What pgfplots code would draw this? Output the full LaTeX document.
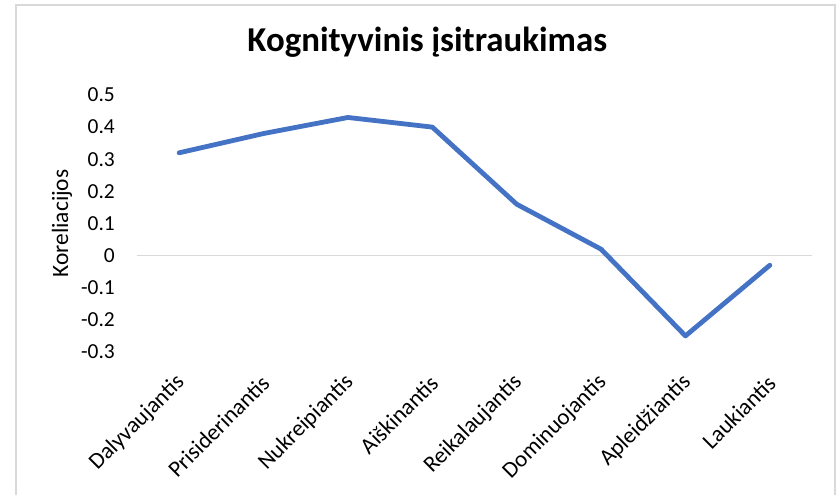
\documentclass[border=0pt]{standalone}
\usepackage{fontspec}
\setmainfont{Carlito}
\usepackage{pgfplots}
\pgfplotsset{compat=1.18}
\definecolor{lineblue}{HTML}{4472C4}
\definecolor{framegray}{HTML}{D9D9D9}

\begin{document}
\begin{tikzpicture}
  % picture frame: 838 x 495 px, 1 px = 1 bp, origin at data (0,0)
  \useasboundingbox (-179.19bp,-239.4bp) rectangle (658.81bp,255.6bp);
  \draw[framegray, line width=2bp] (-163.2bp,-245bp) -- (-163.2bp,250.6bp) -- (655.8bp,250.6bp) -- (655.8bp,-245bp);
  \begin{axis}[
      at={(0,0)}, anchor=origin,
      scale only axis,
      width=675bp, height=257bp,
      xmin=-0.5, xmax=7.5,
      ymin=-0.3, ymax=0.5,
      axis line style={draw=none},
      major tick length=0pt,
      xtick={0,1,2,3,4,5,6,7},
      xticklabels={Dalyvaujantis,Prisiderinantis,Nukreipiantis,Aiškinantis,Reikalaujantis,Dominuojantis,Apleidžiantis,Laukiantis},
      x tick label style={font=\fontsize{23}{27}\selectfont, inner sep=0pt, yshift=-27bp, xshift=2bp, rotate=45, anchor=east},
      ytick={-0.3,-0.2,-0.1,0,0.1,0.2,0.3,0.4,0.5},
      yticklabels={-0.3,-0.2,-0.1,0,0.1,0.2,0.3,0.4,0.5},
      y tick label style={font=\fontsize{21.5}{25}\selectfont, inner sep=0pt, xshift=-22bp, anchor=east},
      extra y ticks={0},
      extra y tick labels={},
      extra y tick style={grid=major, grid style={framegray, line width=1.5bp}},
      ylabel={Koreliacijos},
      ylabel style={font=\fontsize{23.5}{27}\selectfont, at={(axis description cs:-0.111,0.5)}, anchor=center},
      title={Kognityvinis įsitraukimas},
      title style={font=\fontsize{35}{40}\selectfont\bfseries, at={(rel axis cs:0.43,1.183)}, anchor=center},
      clip=false,
    ]
    \addplot[lineblue, line width=4.8bp, line join=round, line cap=round] coordinates {
      (0,0.32) (1,0.38) (2,0.43) (3,0.40) (4,0.16) (5,0.02) (6,-0.25) (7,-0.03)
    };
  \end{axis}
\end{tikzpicture}
\end{document}
